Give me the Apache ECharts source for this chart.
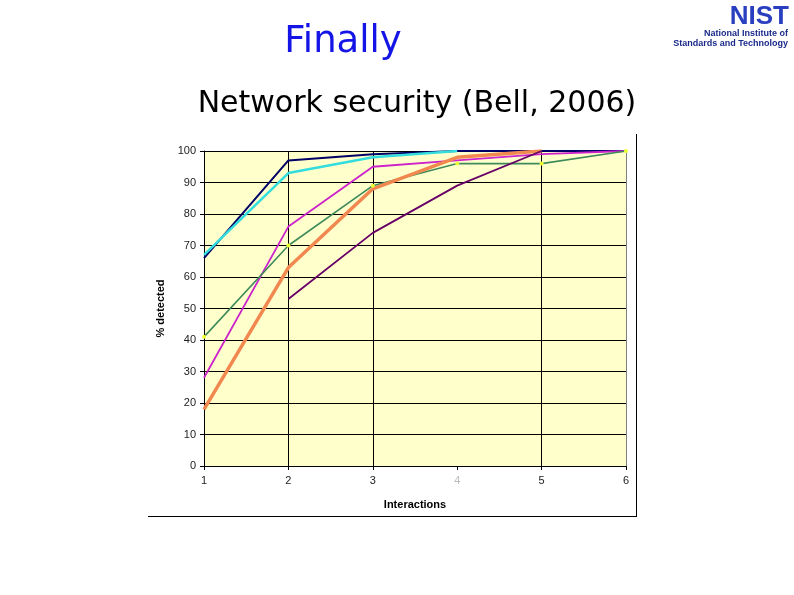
<!DOCTYPE html>
<html>
<head>
<meta charset="utf-8">
<script src="https://cdn.jsdelivr.net/npm/echarts@6/dist/echarts.min.js"></script>
<style>
html,body{margin:0;padding:0;background:#fff;}
#main{width:794px;height:595px;}
</style>
</head>
<body>
<div id="main"></div>
<script>
// Data
const interactions = [1, 2, 3, 4, 5, 6];
const navyValues    = [66, 97, 99, 100, 100, 100];
const cyanValues    = [67, 93, 98, 100, null, null];
const magentaValues = [28, 76, 95, 97, 99, 100];
const greenValues   = [41, 70, 89, 96, 96, 100];
const orangeValues  = [18, 63, 88, 98, 100, null];
const purpleValues  = [null, 53, 74, 89, 100, null];
const yTicks = [0, 10, 20, 30, 40, 50, 60, 70, 80, 90, 100];

function pairs(vals) {
  const out = [];
  vals.forEach((v, i) => { if (v !== null) out.push([interactions[i], v]); });
  return out;
}

const chart = echarts.init(document.getElementById('main'));
const lineSeries = (name, vals, color, width, extra) => Object.assign({
  name: name,
  type: 'line',
  data: pairs(vals),
  showSymbol: false,
  symbol: 'none',
  lineStyle: { color: color, width: width },
  itemStyle: { color: color },
  animation: false,
  z: 3
}, extra || {});

chart.setOption({
  animation: false,
  backgroundColor: '#ffffff',
  title: [
    { text: 'Finally', left: 338, top: 19, textAlign: 'center',
      textStyle: { fontFamily: 'DejaVu Sans', fontSize: 37, fontWeight: 'normal', color: '#1414e6' } },
    { text: 'Network security (Bell, 2006)', left: 412, top: 84, textAlign: 'center',
      textStyle: { fontFamily: 'DejaVu Sans', fontSize: 30, fontWeight: 'normal', color: '#000000' } }
  ],
  graphic: [
    { type: 'text', right: 5, top: 4,
      style: { text: 'NIST', font: 'bold 26px "Liberation Sans"', fill: '#2a3fc0' } },
    { type: 'text', right: 6, top: 29,
      style: { text: 'National Institute of', font: 'bold 9px "Liberation Sans"', fill: '#1a2a8a' } },
    { type: 'text', right: 6, top: 39,
      style: { text: 'Standards and Technology', font: 'bold 9px "Liberation Sans"', fill: '#1a2a8a' } },
    { type: 'line', shape: { x1: 148, y1: 516.5, x2: 637, y2: 516.5 }, style: { stroke: '#000', lineWidth: 1 } },
    { type: 'line', shape: { x1: 636.5, y1: 134, x2: 636.5, y2: 517 }, style: { stroke: '#000', lineWidth: 1 } }
  ],
  grid: { left: 204, right: 168, top: 151, bottom: 129, show: true, backgroundColor: '#ffffcc', borderWidth: 0 },
  xAxis: {
    type: 'value', min: 1, max: 6, interval: 1,
    name: 'Interactions', nameLocation: 'middle', nameGap: 33,
    nameTextStyle: { fontFamily: 'Liberation Sans', fontSize: 11, fontWeight: 'bold', color: '#000' },
    axisLine: { show: true, lineStyle: { color: '#000', width: 1 } },
    axisTick: { show: true, length: 4, lineStyle: { color: '#000' } },
    axisLabel: {
      margin: 9, fontFamily: 'Liberation Sans', fontSize: 11, color: '#222',
      formatter: v => v === 4 ? '{f|' + v + '}' : String(v),
      rich: { f: { color: '#bbbbbb', fontFamily: 'Liberation Sans', fontSize: 11 } }
    },
    splitLine: { show: true, lineStyle: { color: ['rgba(0,0,0,0)', '#000', '#000', 'rgba(0,0,0,0)', '#000', '#808080'], width: 1 } }
  },
  yAxis: {
    type: 'value', min: yTicks[0], max: yTicks[yTicks.length - 1], interval: 10,
    name: '% detected', nameLocation: 'middle', nameGap: 35, nameRotate: 90,
    nameTextStyle: { fontFamily: 'Liberation Sans', fontSize: 11, fontWeight: 'bold', color: '#000' },
    axisLine: { show: true, lineStyle: { color: '#000', width: 1 } },
    axisTick: { show: true, length: 4, lineStyle: { color: '#000' } },
    axisLabel: { margin: 8, fontFamily: 'Liberation Sans', fontSize: 11, color: '#222' },
    splitLine: { show: true, lineStyle: { color: '#000', width: 1 } }
  },
  series: [
    lineSeries('A', navyValues, '#000066', 2),
    lineSeries('B', cyanValues, '#33dddd', 2.5),
    lineSeries('C', magentaValues, '#cc22cc', 1.8),
    lineSeries('D', greenValues, '#3f8a5a', 1.6, {
      showSymbol: true, symbol: 'circle', symbolSize: 4,
      itemStyle: { color: '#eeff33', borderWidth: 0 }
    }),
    lineSeries('E', orangeValues, '#f08850', 3.5),
    lineSeries('F', purpleValues, '#660066', 1.8)
  ]
});
</script>
</body>
</html>
